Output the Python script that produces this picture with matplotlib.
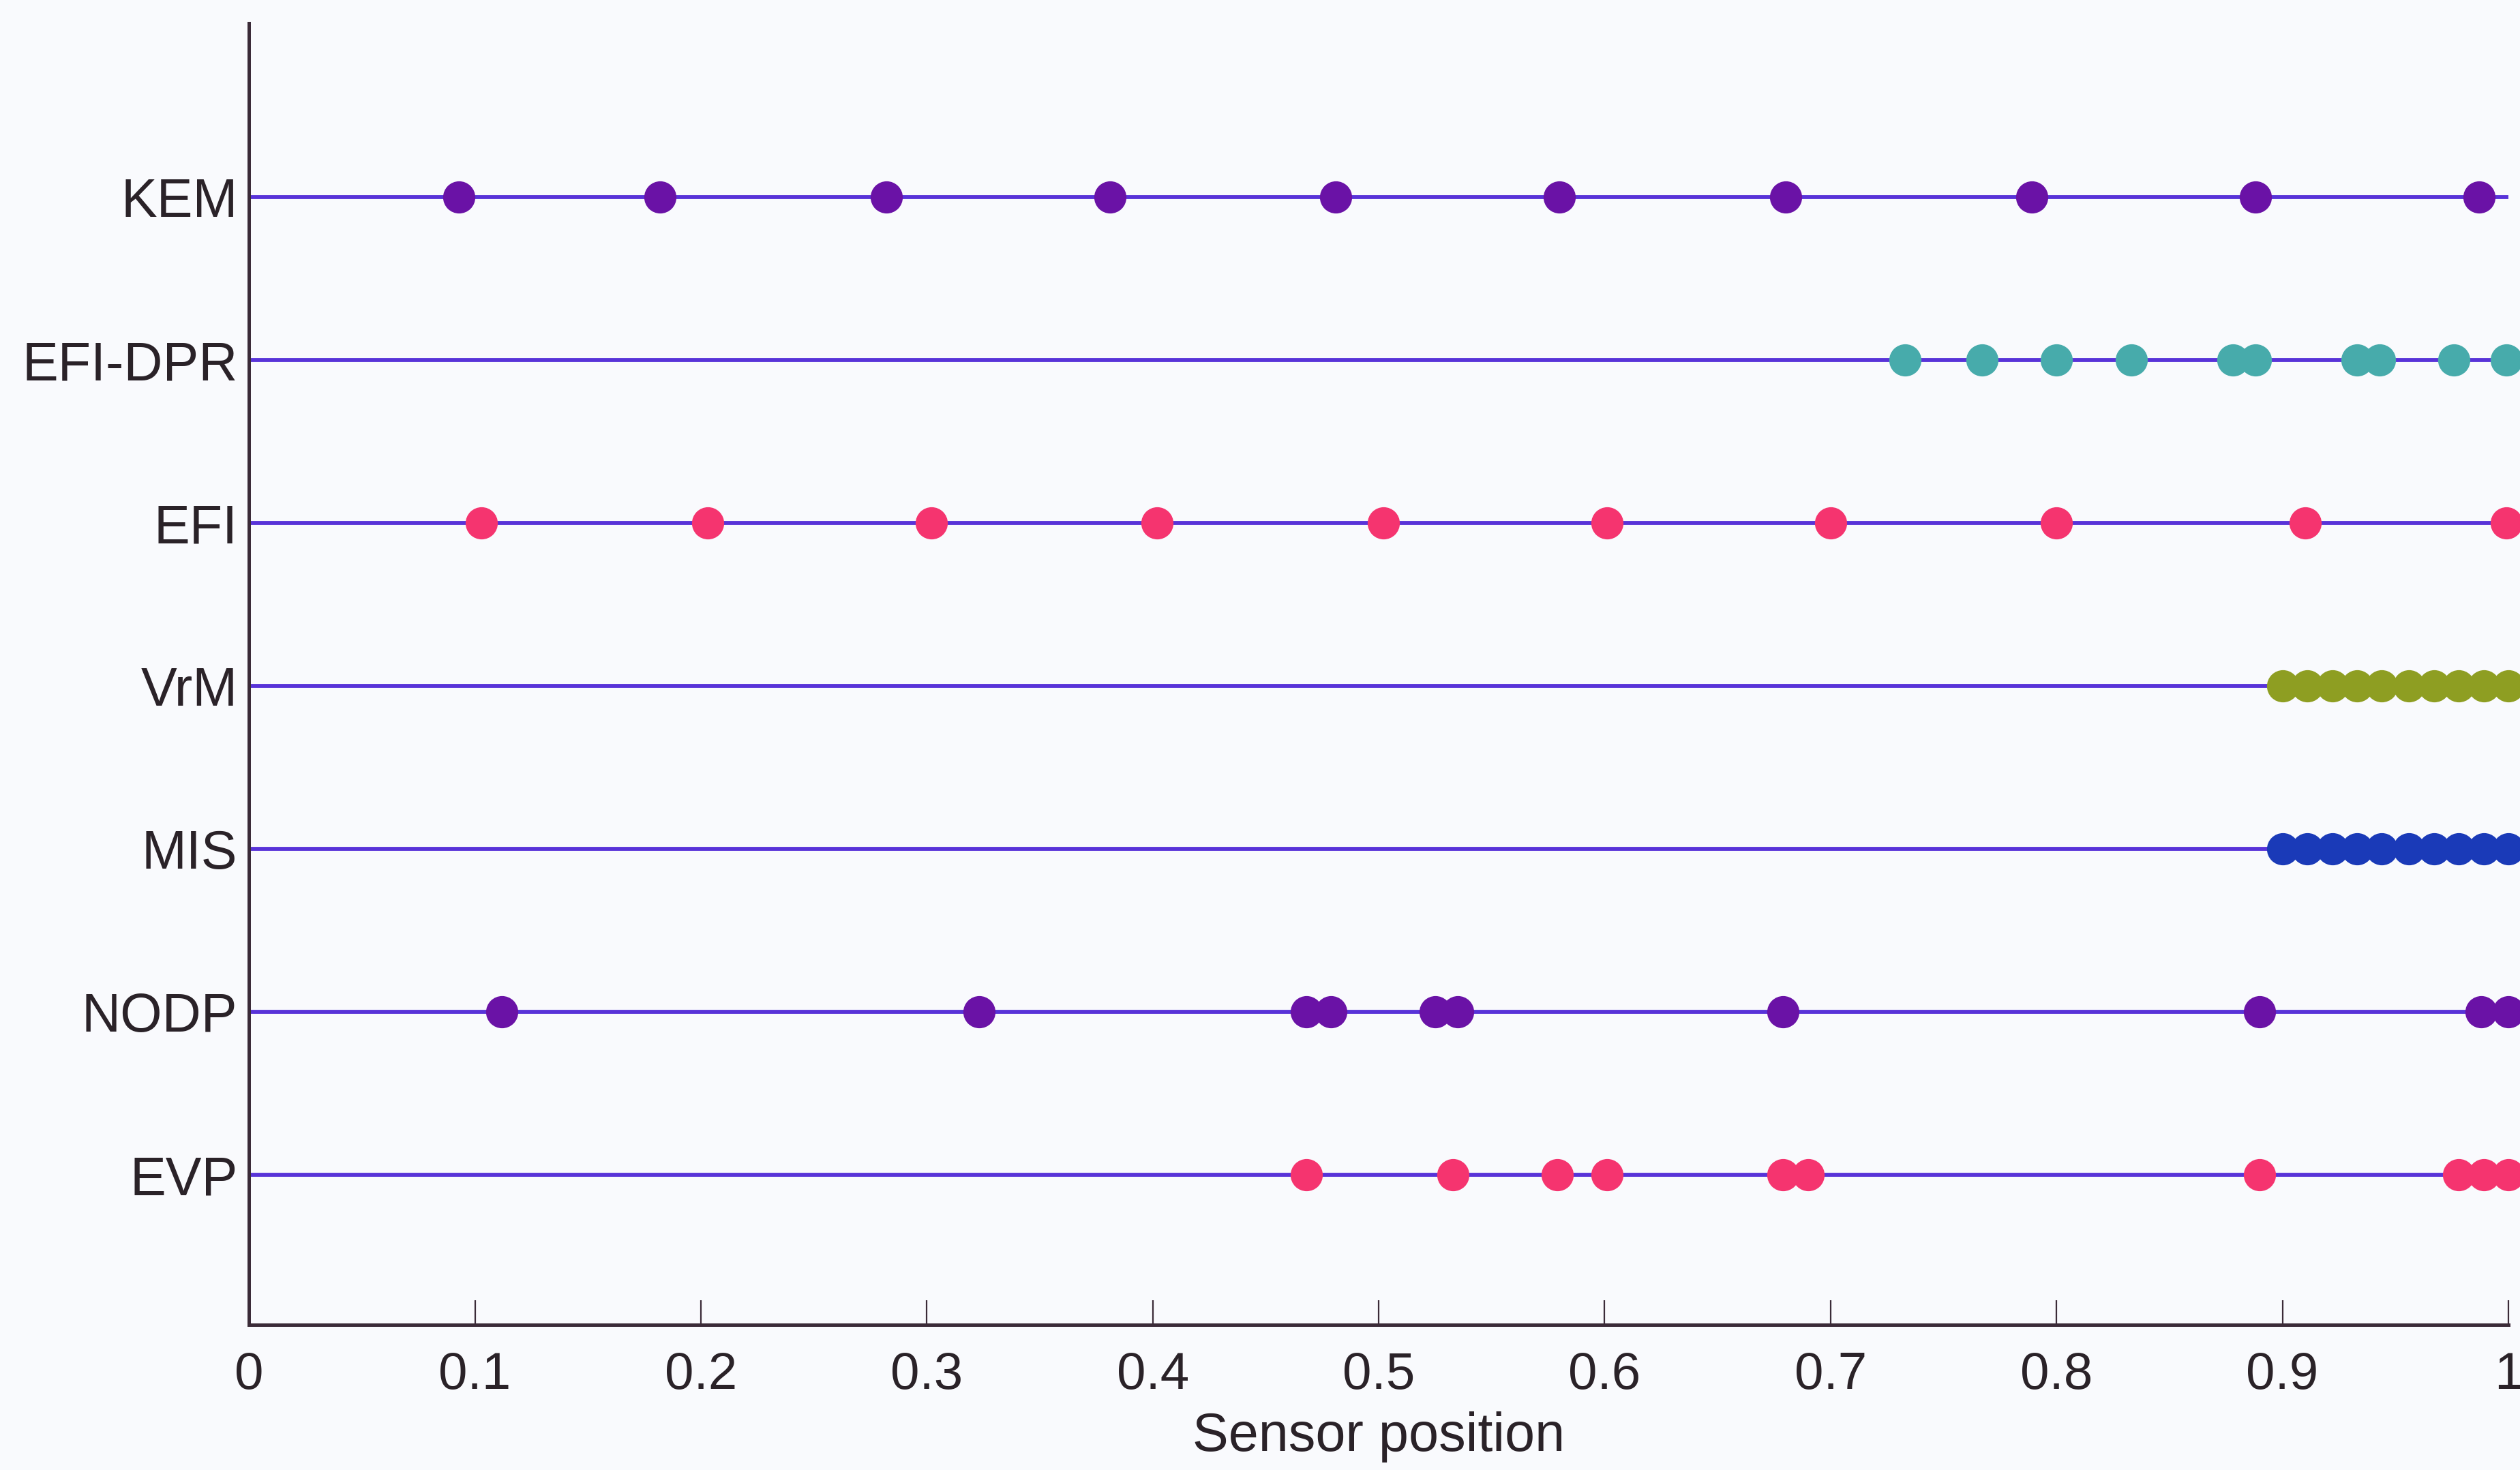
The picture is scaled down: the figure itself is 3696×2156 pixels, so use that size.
import matplotlib
matplotlib.use("Agg")
import matplotlib.pyplot as plt

# ---- data ----
methods = ["EVP", "NODP", "MIS", "VrM", "EFI", "EFI-DPR", "KEM"]

pos_KEM = [0.093, 0.182, 0.282, 0.381, 0.481, 0.580, 0.680, 0.789, 0.888, 0.987]
pos_EFI_DPR = [0.733, 0.767, 0.800, 0.833, 0.878, 0.888, 0.933, 0.943, 0.976, 0.999]
pos_EFI = [0.103, 0.203, 0.302, 0.402, 0.502, 0.601, 0.700, 0.800, 0.910, 0.999]
pos_VrM = [0.900, 0.911, 0.922, 0.933, 0.944, 0.956, 0.967, 0.978, 0.989, 1.000]
pos_MIS = [0.900, 0.911, 0.922, 0.933, 0.944, 0.956, 0.967, 0.978, 0.989, 1.000]
pos_NODP = [0.112, 0.323, 0.468, 0.479, 0.525, 0.535, 0.679, 0.890, 0.988, 1.000]
pos_EVP = [0.468, 0.533, 0.579, 0.601, 0.679, 0.690, 0.890, 0.978, 0.989, 1.000]

positions = [pos_EVP, pos_NODP, pos_MIS, pos_VrM, pos_EFI, pos_EFI_DPR, pos_KEM]
marker_colors = ["#f5346f", "#6a12a6", "#1a3ab8", "#8e9e22", "#f5346f", "#47abab", "#6a12a6"]

xticks = [0, 0.1, 0.2, 0.3, 0.4, 0.5, 0.6, 0.7, 0.8, 0.9, 1]
xticklabels = ["0", "0.1", "0.2", "0.3", "0.4", "0.5", "0.6", "0.7", "0.8", "0.9", "1"]

# ---- style ----
plt.rcParams["font.family"] = ["Liberation Sans", "DejaVu Sans"]
bg = "#f9fafd"
line_color = "#5833d8"
axis_color = "#3b2b38"
text_color = "#2a2228"

fig = plt.figure(figsize=(36.96, 21.56), dpi=100, facecolor=bg)
ax = fig.add_axes([0.0988, 0.0988, 0.8966, 0.8854], facecolor=bg)

for i, (xs, c) in enumerate(zip(positions, marker_colors)):
    ax.plot([0, 1], [i, i], color=line_color, lw=4.2, zorder=2, solid_capstyle="butt")
    ax.plot(xs, [i] * len(xs), linestyle="none", marker="o", ms=34,
            markerfacecolor=c, markeredgecolor=c, mew=0, zorder=3, clip_on=False)

ax.set_xlim(0, 1)
ax.set_ylim(-0.92, 7.067)

ax.set_xticks(xticks)
ax.set_xticklabels(xticklabels)
ax.set_yticks(range(len(methods)))
ax.set_yticklabels(methods)

ax.tick_params(axis="x", direction="in", length=26, width=1.6, colors=axis_color,
               labelsize=55, labelcolor=text_color, pad=28)
ax.tick_params(axis="y", length=0, labelsize=57, labelcolor=text_color, pad=12)

for s in ["top", "right"]:
    ax.spines[s].set_visible(False)
for s in ["left", "bottom"]:
    ax.spines[s].set_color(axis_color)
    ax.spines[s].set_linewidth(3.6)

ax.set_xlabel("Sensor position", fontsize=57, color=text_color, labelpad=12)

fig.savefig("out.png", dpi=100, facecolor=bg)
